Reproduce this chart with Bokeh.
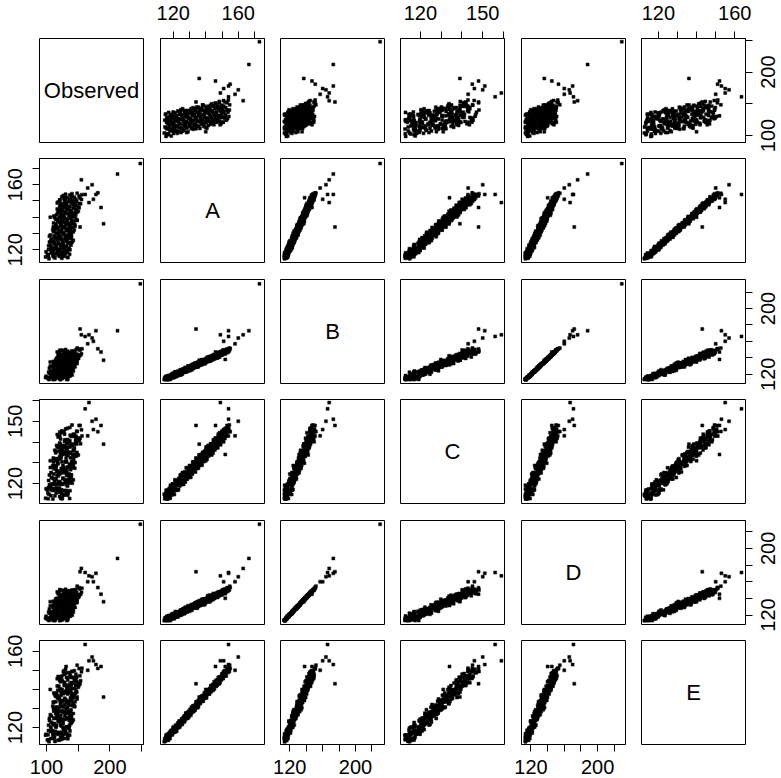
import math
from bokeh.plotting import figure
from bokeh.layouts import gridplot, row, column
from bokeh.models import ColumnDataSource, Range1d, LinearAxis, FixedTicker
from bokeh.core.properties import value
from bokeh.embed import file_html
from bokeh.resources import INLINE

nan = float("nan")

names = ["Observed", "A", "B", "C", "D", "E"]

observed = [
    104.0, 124.2, 113.3, 133.5, 98.6, 120.8, 127.9, 110.1, 118.2, 102.4,
    136.5, 112.7, 123.8, 107.0, 132.1, 117.3, 99.4, 127.6, 121.7, 110.9,
    132.0, 103.2, 119.3, 126.5, 109.6, 135.8, 115.9, 107.1, 130.2, 122.4,
    114.5, 138.7, 106.8, 126.0, 119.1, 133.3, 112.4, 136.6, 104.7, 125.9,
    131.0, 111.2, 142.3, 116.5, 123.6, 107.8, 128.9, 136.1, 120.2, 115.4,
    139.5, 122.7, 111.8, 131.9, 106.1, 135.3, 127.4, 117.6, 138.7, 114.9,
    125.0, 142.2, 120.3, 111.5, 135.6, 130.8, 109.9, 138.1, 124.2, 133.4,
    117.5, 128.7, 141.8, 116.0, 145.1, 123.3, 114.4, 136.6, 131.7, 121.9,
    139.0, 111.2, 134.3, 129.5, 120.6, 142.8, 125.9, 148.1, 117.2, 132.4,
    114.5, 139.7, 128.8, 146.0, 123.1, 120.3, 138.4, 111.6, 143.7, 135.9,
    127.0, 146.2, 122.3, 133.5, 143.6, 117.8, 138.9, 130.1, 150.2, 121.4,
    138.5, 124.7, 145.8, 117.0, 133.1, 142.3, 128.4, 150.6, 120.7, 136.9,
    148.0, 131.2, 124.3, 145.5, 128.6, 153.8, 122.9, 139.1, 143.2, 118.4,
    133.5, 147.7, 128.8, 141.0, 121.1, 146.3, 137.4, 127.6, 152.7, 132.9,
    144.0, 124.2, 140.3, 151.5, 126.6, 136.8, 155.9, 130.1, 140.2, 148.4,
    133.4, 111.6, 102.8, 127.0, 122.2, 101.4, 129.6, 115.8, 125.0, 109.2,
    120.4, 133.6, 107.8, 137.0, 115.2, 106.4, 128.6, 123.8, 114.0, 131.2,
    103.4, 126.6, 121.8, 113.0, 135.2, 118.4, 140.6, 109.8, 125.0, 107.2,
    132.4, 121.6, 138.8, 116.0, 113.2, 131.4, 104.6, 136.8, 129.0, 120.2,
    139.4, 115.6, 126.8, 137.0, 111.2, 132.4, 123.6, 143.8, 115.0, 132.2,
    118.4, 139.6, 110.8, 127.0, 136.2, 122.4, 144.6, 114.8, 131.0, 142.2,
    125.4, 118.6, 139.8, 123.0, 148.2, 117.4, 133.6, 137.8, 113.0, 128.2,
    142.4, 123.6, 135.8, 116.0, 141.2, 132.4, 122.6, 147.8, 128.0, 139.2,
    119.4, 135.6, 146.8, 122.0, 132.2, 151.4, 125.6, 135.8, 144.0, 122.2,
    142.4, 131.6, 151.8, 117.0, 139.2, 146.4, 128.6, 136.8, 121.0, 155.2,
    248, 212, 190, 186, 181, 174, 167, 161, 178, 155, 153, 165, 131, 106, 172,
]

a_vals = [
    114.5, 114.8, 115.0, 115.3, 115.6, 115.9, 116.1, 116.4, 116.7, 116.9,
    117.2, 117.5, 117.7, 118.0, 118.3, 118.6, 118.8, 119.1, 119.4, 119.6,
    119.9, 120.2, 120.4, 120.7, 121.0, 121.3, 121.5, 121.8, 122.1, 122.3,
    122.6, 122.9, 123.1, 123.4, 123.7, 124.0, 124.2, 124.5, 124.8, 125.0,
    125.3, 125.6, 125.8, 126.1, 126.4, 126.7, 126.9, 127.2, 127.5, 127.7,
    128.0, 128.3, 128.5, 128.8, 129.1, 129.4, 129.6, 129.9, 130.2, 130.4,
    130.7, 131.0, 131.2, 131.5, 131.8, 132.1, 132.3, 132.6, 132.9, 133.1,
    133.4, 133.7, 133.9, 134.2, 134.5, 134.8, 135.0, 135.3, 135.6, 135.8,
    136.1, 136.4, 136.6, 136.9, 137.2, 137.5, 137.7, 138.0, 138.3, 138.5,
    138.8, 139.1, 139.3, 139.6, 139.9, 140.2, 140.4, 140.7, 141.0, 141.2,
    141.5, 141.8, 142.0, 142.3, 142.6, 142.9, 143.1, 143.4, 143.7, 143.9,
    144.2, 144.5, 144.7, 145.0, 145.3, 145.6, 145.8, 146.1, 146.4, 146.6,
    146.9, 147.2, 147.4, 147.7, 148.0, 148.3, 148.5, 148.8, 149.1, 149.3,
    149.6, 149.9, 150.1, 150.4, 150.7, 151.0, 151.2, 151.5, 151.8, 152.0,
    152.3, 152.6, 152.8, 153.1, 153.4, 153.7, 153.9, 154.2, 154.5, 154.7,
    115.3, 115.7, 116.0, 116.4, 116.7, 117.1, 117.5, 117.8, 118.2, 118.5,
    118.9, 119.3, 119.6, 120.0, 120.3, 120.7, 121.1, 121.4, 121.8, 122.1,
    122.5, 122.9, 123.2, 123.6, 123.9, 124.3, 124.7, 125.0, 125.4, 125.7,
    126.1, 126.5, 126.8, 127.2, 127.5, 127.9, 128.3, 128.6, 129.0, 129.3,
    129.7, 130.1, 130.4, 130.8, 131.1, 131.5, 131.9, 132.2, 132.6, 132.9,
    133.3, 133.7, 134.0, 134.4, 134.7, 135.1, 135.5, 135.8, 136.2, 136.5,
    136.9, 137.3, 137.6, 138.0, 138.3, 138.7, 139.1, 139.4, 139.8, 140.1,
    140.5, 140.9, 141.2, 141.6, 141.9, 142.3, 142.7, 143.0, 143.4, 143.7,
    144.1, 144.5, 144.8, 145.2, 145.5, 145.9, 146.3, 146.6, 147.0, 147.3,
    147.7, 148.1, 148.4, 148.8, 149.1, 149.5, 149.9, 150.2, 150.6, 150.9,
    173, 166.5, 136, 146, 155, 151, 149, 154, 154, 163, 134, 158, 152, 140, 160,
]

b_vals = [
    113.5, 115.7, 114.2, 113.6, 115.9, 114.3, 117.8, 113.8, 116.2, 114.9,
    118.3, 113.9, 117.4, 116.5, 113.7, 118.9, 117.5, 116.2, 120.7, 117.2,
    118.8, 115.9, 120.0, 122.3, 117.5, 119.1, 121.9, 117.0, 121.0, 122.0,
    118.7, 121.0, 123.8, 120.3, 119.1, 122.9, 121.5, 125.5, 121.0, 123.4,
    125.0, 120.1, 123.9, 126.2, 123.3, 122.4, 126.0, 124.8, 122.8, 128.1,
    125.1, 127.0, 123.1, 127.0, 129.9, 125.5, 126.8, 129.3, 124.8, 129.5,
    128.9, 126.8, 131.1, 125.3, 129.4, 130.3, 128.5, 132.0, 129.4, 128.1,
    133.7, 130.9, 129.1, 132.8, 129.0, 132.3, 134.7, 131.3, 129.2, 134.0,
    132.6, 135.6, 132.2, 134.5, 136.9, 131.5, 134.5, 132.9, 136.8, 134.7,
    137.6, 132.6, 136.3, 137.5, 134.9, 139.3, 136.0, 134.9, 138.0, 141.1,
    136.2, 138.9, 135.8, 140.5, 138.8, 135.9, 140.8, 139.0, 142.4, 138.9,
    141.3, 138.5, 143.8, 140.3, 139.3, 141.9, 144.0, 139.2, 143.4, 142.3,
    140.3, 144.7, 143.5, 142.1, 146.6, 143.3, 140.9, 146.3, 145.3, 143.9,
    147.9, 144.5, 143.5, 147.0, 146.3, 149.6, 145.1, 146.6, 149.2, 144.5,
    148.1, 149.2, 146.3, 150.8, 148.5, 146.5, 150.9, 150.1, 148.4, 151.8,
    117.1, 113.5, 115.2, 116.9, 113.4, 116.0, 118.4, 115.5, 114.7, 118.4,
    117.3, 115.3, 120.8, 117.8, 119.8, 116.0, 120.0, 123.0, 118.6, 120.0,
    122.6, 118.2, 122.9, 122.4, 120.4, 124.8, 119.1, 123.3, 124.3, 122.5,
    126.1, 123.6, 122.4, 128.0, 125.3, 123.7, 127.4, 123.7, 127.0, 129.6,
    126.2, 124.2, 129.0, 127.8, 130.8, 127.5, 130.0, 132.4, 127.1, 130.1,
    128.7, 132.6, 130.6, 133.5, 128.7, 132.5, 133.7, 131.2, 135.7, 132.5,
    131.4, 134.7, 137.8, 133.0, 135.7, 132.8, 137.6, 135.9, 133.1, 138.1,
    136.4, 139.8, 136.4, 138.9, 136.2, 141.6, 138.1, 137.3, 139.9, 142.1,
    137.4, 141.7, 140.6, 138.7, 143.2, 142.1, 140.8, 145.3, 142.2, 139.8,
    145.3, 144.3, 143.1, 147.1, 143.8, 143.0, 146.5, 145.9, 149.2, 144.9,
    230, 173, 137, 147, 151, 160, 168, 166, 173, 168, 175, 157, 138, 135, 164,
]

c_vals = [
    114.8, 112.7, 114.1, 115.3, 112.9, 113.8, 116.7, 112.6, 115.9, 115.3,
    112.8, 117.4, 115.2, 114.2, 119.2, 116.4, 117.5, 114.5, 116.0, 119.8,
    116.3, 118.1, 119.7, 114.7, 117.6, 121.3, 117.4, 119.2, 120.8, 116.9,
    119.4, 121.0, 117.2, 122.5, 120.9, 118.8, 120.2, 124.2, 119.4, 122.6,
    120.7, 124.6, 121.8, 124.0, 119.6, 122.9, 125.2, 120.9, 124.4, 122.2,
    127.6, 125.0, 122.3, 123.9, 127.7, 123.8, 126.8, 126.1, 122.9, 128.3,
    125.9, 128.4, 125.1, 127.1, 124.6, 130.4, 128.6, 126.7, 130.5, 128.0,
    129.9, 125.6, 128.1, 132.0, 130.1, 127.3, 131.5, 128.3, 130.6, 133.8,
    128.7, 130.4, 133.6, 130.5, 132.8, 132.3, 128.8, 135.0, 131.1, 133.7,
    134.8, 130.6, 135.5, 133.5, 132.7, 137.6, 135.1, 131.7, 136.1, 134.6,
    138.1, 133.2, 135.8, 137.4, 134.3, 135.6, 139.1, 137.2, 133.8, 139.2,
    138.1, 136.2, 141.1, 137.6, 139.5, 136.2, 137.8, 141.8, 139.5, 137.6,
    141.3, 140.8, 137.3, 142.7, 140.3, 139.2, 144.5, 142.7, 139.0, 142.4,
    141.2, 145.2, 141.1, 142.9, 144.8, 140.1, 143.3, 144.7, 141.7, 146.6,
    143.6, 145.4, 142.9, 148.0, 144.9, 147.0, 142.9, 146.3, 148.2, 145.1,
    114.4, 116.8, 112.7, 114.5, 113.0, 116.9, 114.9, 117.8, 112.9, 116.7,
    117.9, 115.4, 119.8, 116.6, 115.5, 118.7, 121.8, 117.0, 119.7, 116.7,
    121.5, 119.8, 117.0, 121.9, 120.2, 123.6, 120.2, 122.6, 119.9, 125.3,
    121.8, 120.9, 123.5, 125.7, 120.9, 125.2, 124.1, 122.2, 126.6, 125.5,
    124.2, 128.7, 125.5, 123.1, 128.6, 127.6, 126.3, 130.3, 127.0, 126.1,
    129.6, 129.0, 132.3, 127.9, 129.4, 132.1, 127.4, 131.1, 132.2, 129.4,
    134.0, 131.7, 129.8, 134.2, 133.5, 131.8, 135.3, 132.4, 136.0, 134.6,
    131.7, 136.4, 134.8, 138.4, 133.8, 136.9, 135.6, 139.1, 134.7, 138.3,
    137.4, 134.7, 139.9, 138.6, 137.3, 141.9, 138.4, 140.2, 137.3, 141.5,
    143.8, 139.1, 140.7, 143.6, 138.7, 142.8, 143.8, 140.6, 143.0, 145.9,
    nan, nan, 139, 148, 145, 146, 159, 156, 151, nan, 148, 143, 134, 131, 150,
]

d_vals = [
    113.3, 116.1, 113.4, 114.3, 116.0, 113.3, 118.5, 113.7, 117.2, 114.6,
    118.9, 113.3, 118.7, 116.4, 113.3, 119.3, 118.5, 115.4, 121.4, 117.3,
    118.2, 116.6, 120.4, 122.2, 118.7, 119.1, 121.1, 117.8, 121.5, 122.0,
    119.9, 121.0, 123.5, 121.0, 119.4, 124.4, 121.3, 125.9, 122.1, 122.8,
    125.7, 120.8, 123.7, 127.6, 123.7, 122.0, 127.2, 125.6, 122.8, 129.4,
    125.2, 128.3, 123.6, 126.6, 131.1, 125.9, 128.4, 129.3, 125.6, 129.9,
    130.4, 126.6, 132.2, 125.8, 129.0, 131.6, 129.2, 132.3, 131.1, 128.4,
    134.7, 130.7, 130.2, 134.7, 129.0, 132.9, 136.3, 131.0, 130.1, 135.4,
    132.7, 136.5, 133.9, 135.0, 137.0, 132.6, 135.2, 134.8, 137.2, 135.7,
    139.2, 132.2, 137.3, 139.3, 135.5, 139.7, 137.4, 135.8, 138.2, 143.2,
    137.0, 140.4, 135.7, 141.8, 141.0, 136.4, 141.8, 140.7, 142.6, 140.5,
    142.7, 139.0, 145.9, 140.2, 140.5, 143.4, 144.9, 141.1, 144.4, 142.7,
    142.5, 146.0, 144.1, 143.8, 147.1, 144.7, 143.0, 147.3, 145.5, 145.6,
    149.2, 146.6, 144.3, 148.7, 148.7, 150.2, 146.4, 147.3, 151.3, 145.6,
    150.3, 149.6, 147.8, 152.8, 149.4, 148.8, 152.1, 150.8, 150.1, 154.6,
    117.0, 114.4, 114.5, 117.4, 113.4, 115.0, 119.3, 115.7, 114.3, 119.6,
    117.2, 115.6, 120.2, 118.4, 121.2, 115.5, 120.1, 124.2, 117.8, 120.6,
    123.5, 117.7, 123.3, 123.7, 120.3, 124.4, 119.7, 123.5, 125.8, 122.3,
    126.8, 124.7, 121.6, 128.7, 126.6, 123.9, 127.3, 124.6, 127.6, 129.5,
    127.7, 124.5, 130.1, 127.4, 131.8, 129.3, 130.2, 133.1, 128.4, 129.8,
    129.9, 133.7, 130.8, 135.2, 128.1, 133.4, 134.9, 131.6, 137.4, 133.1,
    131.4, 136.7, 138.9, 133.2, 137.2, 132.8, 138.8, 137.8, 133.6, 138.0,
    137.8, 140.8, 138.2, 139.5, 137.4, 143.8, 138.2, 138.3, 140.4, 143.9,
    138.2, 143.6, 140.7, 139.9, 144.9, 142.8, 142.9, 146.3, 142.6, 141.1,
    147.8, 145.0, 144.6, 147.6, 145.7, 144.2, 146.8, 147.7, 150.5, 147.1,
    229, 188, 136, 145, 153, 160, 167, 171, 170, 176, 172, 160, 140, 136, 166,
]

e_vals = [
    112.7, 114.0, 112.8, 114.2, 116.1, 113.5, 114.4, 116.0, 113.4, 116.3,
    116.1, 114.9, 117.6, 114.3, 116.8, 117.5, 116.5, 118.7, 117.2, 116.6,
    120.0, 118.5, 117.5, 119.8, 117.7, 119.7, 121.3, 119.3, 118.2, 121.2,
    120.5, 122.3, 120.4, 122.0, 123.5, 120.4, 122.2, 121.4, 123.8, 122.7,
    124.5, 121.7, 124.0, 124.8, 123.4, 126.1, 124.3, 123.7, 125.7, 127.6,
    124.8, 126.5, 124.8, 127.7, 126.8, 125.2, 128.2, 127.2, 129.4, 127.4,
    128.9, 127.4, 130.7, 128.6, 128.2, 129.8, 131.2, 128.4, 131.1, 130.5,
    129.4, 132.1, 131.5, 130.8, 133.6, 131.8, 130.4, 133.8, 133.3, 132.5,
    135.0, 133.1, 132.7, 134.8, 134.5, 136.6, 134.0, 135.0, 136.7, 134.0,
    136.3, 137.0, 135.4, 138.2, 136.9, 135.8, 138.6, 138.2, 137.3, 139.4,
    137.8, 140.0, 139.2, 137.6, 140.5, 139.6, 141.8, 139.1, 141.1, 140.4,
    142.6, 140.0, 142.2, 141.8, 140.2, 143.4, 142.7, 142.0, 144.8, 142.8,
    144.0, 142.3, 144.9, 146.3, 143.6, 144.6, 146.5, 143.6, 146.1, 146.8,
    145.0, 146.5, 148.3, 146.3, 145.7, 148.0, 147.3, 149.8, 147.2, 148.7,
    149.8, 147.0, 149.4, 150.9, 149.2, 148.8, 151.1, 150.5, 149.4, 152.7,
    114.8, 114.3, 113.7, 116.5, 114.8, 113.5, 116.9, 116.5, 115.9, 118.4,
    116.6, 116.2, 118.5, 118.3, 120.4, 118.0, 119.0, 120.8, 118.1, 120.5,
    121.3, 119.8, 122.7, 121.5, 120.5, 123.3, 123.1, 122.2, 124.5, 122.9,
    125.2, 124.5, 123.0, 125.9, 125.1, 127.5, 124.9, 126.9, 126.3, 128.5,
    126.0, 128.4, 128.0, 126.5, 129.8, 129.2, 128.6, 131.5, 129.5, 130.8,
    129.2, 131.9, 133.4, 130.8, 131.9, 133.8, 131.0, 133.6, 134.4, 132.6,
    134.2, 136.1, 134.2, 133.7, 136.1, 135.5, 138.1, 135.6, 137.2, 138.4,
    135.6, 138.1, 139.7, 138.1, 137.8, 140.1, 139.6, 138.6, 142.0, 140.3,
    141.7, 139.6, 142.1, 144.0, 141.5, 142.5, 144.2, 141.7, 144.7, 144.6,
    143.5, 146.3, 143.0, 145.6, 146.4, 145.5, 147.8, 146.4, 145.8, 149.3,
    nan, nan, 136, 152, 151, 155, 155, 163.5, 153, nan, 143, 150, 152, 140, 157,
]

# axis limits of each variable
limits = {
    "Observed": (89, 253),
    "A": (112.2, 176.1),
    "B": (108.7, 235.3),
    "C": (110.4, 160.5),
    "D": (108.6, 233.5),
    "E": (111.2, 165.6),
}
tick_values = {
    "Observed": [100, 150, 200, 250],
    "A": [120, 130, 140, 150, 160, 170],
    "B": [120, 140, 160, 180, 200, 220],
    "C": [120, 130, 140, 150, 160],
    "D": [120, 140, 160, 180, 200, 220],
    "E": [120, 130, 140, 150, 160],
}
tick_labels_shown = {
    "Observed": [100, 200],
    "A": [120, 160],
    "B": [120, 200],
    "C": [120, 150],
    "D": [120, 200],
    "E": [120, 160],
}

src = ColumnDataSource(dict(
    Observed=observed, A=a_vals, B=b_vals, C=c_vals, D=d_vals, E=e_vals,
))

FONT = "Liberation Sans"
TICK_FS = "20px"
DIAG_FS = "22px"
PANEL = 104
# borders around each panel (px); outer sides hold the outward ticks
col_l = [10, 8, 8, 8, 9, 8]
col_r = [9, 8, 8, 8, 8, 9]
row_t = [9, 8, 8, 8, 8, 8]
row_b = [8, 9, 8, 9, 8, 9]
# margins that carry the tick labels, and label-centre positions in them
LEFT_W, RIGHT_W, TOP_H, BOT_H = 29, 26, 29, 24
TOP_Y, BOT_Y, LEFT_X, RIGHT_X = 12.7, 13.5, 14.5, 13.0

col_w = [col_l[j] + PANEL + col_r[j] for j in range(6)]
row_h = [row_t[i] + PANEL + row_b[i] for i in range(6)]
GRID_W, GRID_H = sum(col_w), sum(row_h)
TOTAL_W = LEFT_W + GRID_W + RIGHT_W
TOTAL_H = TOP_H + GRID_H + BOT_H


def panel_left(j):
    return LEFT_W + sum(col_w[:j]) + col_l[j]


def panel_top(i):
    return TOP_H + sum(row_h[:i]) + row_t[i]


def to_x(var, j, t):
    lo, hi = limits[var]
    return panel_left(j) + (t - lo) / (hi - lo) * PANEL


def to_y(var, i, t):
    lo, hi = limits[var]
    return panel_top(i) + (hi - t) / (hi - lo) * PANEL


def blank(fig):
    fig.grid.visible = False
    fig.outline_line_color = None
    fig.background_fill_color = "white"
    fig.border_fill_color = "white"
    return fig


def add_ticks(p, var, side):
    ax = LinearAxis(ticker=FixedTicker(ticks=tick_values[var]))
    ax.major_tick_in = 0
    ax.major_tick_out = 7
    ax.minor_tick_in = 0
    ax.minor_tick_out = 0
    ax.axis_line_color = "black"
    ax.major_tick_line_color = "black"
    ax.major_label_standoff = 0
    ax.major_label_text_font_size = "0px"
    ax.major_label_overrides = {t: "" for t in tick_values[var]}
    p.add_layout(ax, side)


def margin_fig(w, h, x_range, y_range):
    f = figure(frame_width=w, frame_height=h, x_range=x_range, y_range=y_range,
               x_axis_location=None, y_axis_location=None,
               toolbar_location=None, output_backend="svg", min_border=0)
    return blank(f)


# margin figures use page-pixel coordinates (y grows downwards)
top_fig = margin_fig(TOTAL_W, TOP_H, Range1d(0, TOTAL_W), Range1d(TOP_H, 0))
bot_y0 = TOP_H + GRID_H
bot_fig = margin_fig(TOTAL_W, BOT_H, Range1d(0, TOTAL_W),
                     Range1d(bot_y0 + BOT_H, bot_y0))
left_fig = margin_fig(LEFT_W, GRID_H, Range1d(0, LEFT_W),
                      Range1d(TOP_H + GRID_H, TOP_H))
right_x0 = LEFT_W + GRID_W
right_fig = margin_fig(RIGHT_W, GRID_H, Range1d(right_x0, right_x0 + RIGHT_W),
                       Range1d(TOP_H + GRID_H, TOP_H))

labels = {"top": ([], [], []), "bot": ([], [], []), "left": ([], [], []),
          "right": ([], [], [])}

panels = []
for i in range(6):
    prow = []
    for j in range(6):
        xv, yv = names[j], names[i]
        p = figure(
            frame_width=PANEL, frame_height=PANEL,
            x_range=Range1d(*limits[xv]), y_range=Range1d(*limits[yv]),
            x_axis_location=None, y_axis_location=None,
            toolbar_location=None, output_backend="svg",
            min_border_left=col_l[j], min_border_right=col_r[j],
            min_border_top=row_t[i], min_border_bottom=row_b[i],
        )
        blank(p)
        p.outline_line_color = "black"
        p.outline_line_width = 1
        if i == j:
            cx = sum(limits[xv]) / 2
            cy = sum(limits[yv]) / 2
            p.text(x=[cx], y=[cy], text=[names[i]], text_align="center",
                   text_baseline="middle", text_font=value(FONT),
                   text_font_size=DIAG_FS, text_color="black")
        else:
            p.scatter(x=xv, y=yv, source=src, marker="square", size=3,
                      fill_color="black", line_color="black", line_width=0.5)
        if i == 0 and j % 2 == 1:
            add_ticks(p, xv, "above")
            for t in tick_labels_shown[xv]:
                labels["top"][0].append(to_x(xv, j, t))
                labels["top"][1].append(TOP_Y)
                labels["top"][2].append(str(t))
        if i == 5 and j % 2 == 0:
            add_ticks(p, xv, "below")
            for t in tick_labels_shown[xv]:
                labels["bot"][0].append(to_x(xv, j, t))
                labels["bot"][1].append(bot_y0 + BOT_Y)
                labels["bot"][2].append(str(t))
        if j == 0 and i % 2 == 1:
            add_ticks(p, yv, "left")
            for t in tick_labels_shown[yv]:
                labels["left"][0].append(LEFT_X)
                labels["left"][1].append(to_y(yv, i, t))
                labels["left"][2].append(str(t))
        if j == 5 and i % 2 == 0:
            add_ticks(p, yv, "right")
            for t in tick_labels_shown[yv]:
                labels["right"][0].append(right_x0 + RIGHT_X)
                labels["right"][1].append(to_y(yv, i, t))
                labels["right"][2].append(str(t))
        prow.append(p)
    panels.append(prow)

for key, fig, ang in (("top", top_fig, 0), ("bot", bot_fig, 0),
                      ("left", left_fig, math.pi / 2),
                      ("right", right_fig, math.pi / 2)):
    xs, ys, txt = labels[key]
    fig.text(x=xs, y=ys, text=txt, angle=ang, text_align="center",
             text_baseline="middle", text_font=value(FONT),
             text_font_size=TICK_FS, text_color="black")

grid = gridplot(panels, toolbar_location=None)
layout = column(top_fig, row(left_fig, grid, right_fig), bot_fig)

open("out.html", "w").write(file_html(layout, INLINE))
